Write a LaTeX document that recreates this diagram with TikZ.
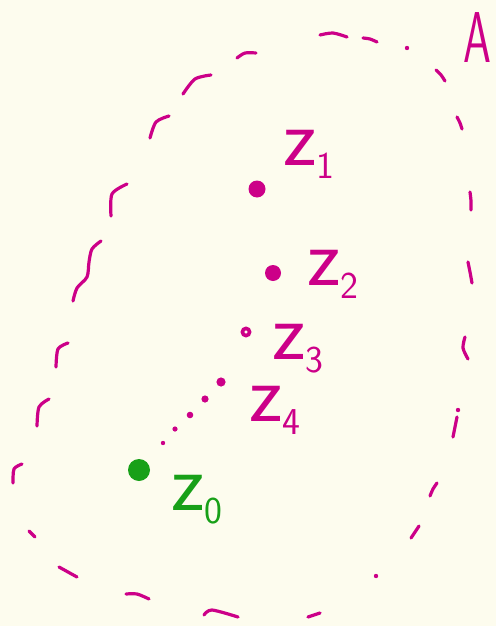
\documentclass[tikz,border=0pt]{standalone}
\usepackage{tikz}
\usetikzlibrary{positioning}
\definecolor{mMagenta}{HTML}{CC0088}
\definecolor{mGreen}{HTML}{18A018}
\definecolor{mCream}{HTML}{FDFCEE}
\tikzset{
  rim/.style={mMagenta, line width=3.2pt, line cap=round, line join=round},
  zlab/.style={anchor=base west, inner sep=0pt, font=\sffamily}
}
\newcommand{\zname}[1]{{\fontsize{82}{82}\selectfont z}\raisebox{-13pt}{\fontsize{38}{38}\selectfont #1}}

\begin{document}
\begin{tikzpicture}[x=1pt, y=-1pt]
    \fill[mCream] (0,0) rectangle (496,626);
    \useasboundingbox (0,0) rectangle (496,626);
    % the loose strokes round the set A
    \foreach \xa/\ya/\xb/\yb/\xc/\yc in {
        237/58/245/53/256/53, 183/94/195/79/211/75, 150/138/156/122/169/116,
        111/216/112/194/127/184, 56/367/58/349/68/343, 37/426/39/407/49/399,
        13/483/14/469/22/464, 29/531/32/534/35/537, 59/567/68/572/77/577,
        126/594/137/594/149/599, 204/615/212/610/238/617, 308/617/314/615/320/613,
        411/538/415/532/419/526, 430/496/433/489/437/483, 453/437/455/427/457/417,
        468/359/463/348/465/337, 468/262/470/272/472/283, 470/192/471/201/471/210,
        457/117/460/123/462/129, 436/70/441/75/445/81, 363/38/370/39/377/42,
        320/35/333/33/347/37} {
      \draw[rim] plot[smooth] coordinates {(\xa,\ya) (\xb,\yb) (\xc,\yc)};
    }
    \draw[rim] plot[smooth] coordinates {(101,241) (92,249) (89,262) (87,277) (77,288) (73,301)};
    \foreach \x/\y in {407/48, 458/410, 376/576}
      \fill[mMagenta] (\x,\y) circle (2.2);
    \node[zlab, mMagenta] (setA) at (463,63) {\fontsize{72}{72}\selectfont\scalebox{0.62}[1]{A}};

    % the points of the sequence
    \fill[mMagenta] (257,189) circle (8.5) coordinate (z1);
    \fill[mMagenta] (273,273) circle (8) coordinate (z2);
    \draw[mMagenta, line width=3.6pt] (246,332) circle (3.6) coordinate (z3);
    \fill[mMagenta] (221,382) circle (4.6) coordinate (z4);
    \foreach \x/\y/\r in {205/399/3.6, 190/415/3.3, 175/429/2.6, 163/443/2.2}
      \fill[mMagenta] (\x,\y) circle (\r);
    \fill[mGreen] (139,470) circle (11) coordinate (z0);

    \node[zlab, mMagenta] (lab1) at (283,165) {\zname{1}};
    \node[zlab, mMagenta] (lab2) at (307,285) {\zname{2}};
    \node[zlab, mMagenta] (lab3) at (272,359) {\zname{3}};
    \node[zlab, mMagenta] (lab4) at (249,421) {\zname{4}};
    \node[zlab, mGreen] (lab0) at (171,510) {\zname{0}};
\end{tikzpicture}
\end{document}
